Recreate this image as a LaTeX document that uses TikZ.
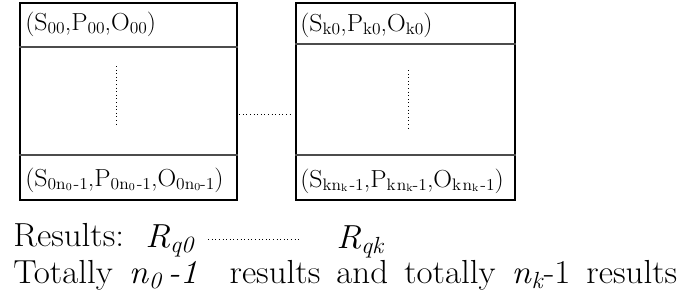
\documentclass[tikz,border=0pt]{standalone}
\usepackage{fontspec}
\setmainfont{Latin Modern Roman}[FakeStretch=1.05]
\usetikzlibrary{positioning}
\newcommand\lo[1]{\raisebox{-0.3ex}{\fontsize{12.5}{12.5}\selectfont #1}}
\newcommand\llo[1]{\raisebox{-0.2ex}{\fontsize{8}{8}\selectfont #1}}
\newcommand\blo[1]{\raisebox{-0.35ex}{\fontsize{17.5}{17.5}\selectfont #1}}
\begin{document}
\begin{tikzpicture}[x=0.75pt,y=-0.75pt,
	tbox/.style={draw,line width=1.4pt,minimum height=147.75pt,inner sep=0pt},
	sep/.style={draw=black!70,line width=0.8pt},
	cell/.style={anchor=west,inner sep=0pt,font=\fontsize{18.5}{21}\selectfont},
	txt/.style={anchor=base west,inner sep=0pt,font=\fontsize{25}{29}\selectfont},
	gap/.style={dotted,line width=0.7pt}]
	\useasboundingbox (0,0) rectangle (690,307);
	% the two result tables
	\node[tbox,minimum width=162.75pt] (b0) at (128.5,101.5) {};
	\node[tbox,minimum width=164.25pt] (bk) at (405.5,101.5) {};
	\draw[sep] (b0.west |- 0,47) -- (b0.east |- 0,47);
	\draw[sep] (b0.west |- 0,155) -- (b0.east |- 0,155);
	\draw[sep] (bk.west |- 0,44) -- (bk.east |- 0,44);
	\draw[sep] (bk.west |- 0,155) -- (bk.east |- 0,155);
	\node[cell] (s00) at (25,24) {(S\lo{00},P\lo{00},O\lo{00})};
	\node[cell] (s0n) at (25,180) {(S\lo{0n\llo{0}\hspace{1.5pt}-1},P\lo{0n\llo{0}\hspace{1.5pt}-1},O\lo{0n\llo{0}-1})};
	\node[cell] (sk0) at (300,25) {(S\lo{k0},P\lo{k0},O\lo{k0})};
	\node[cell] (skn) at (300,181) {(S\lo{kn\llo{k}\hspace{1.5pt}-1},P\lo{k\hspace{1pt}n\llo{k}-1},O\lo{k\hspace{1pt}n\llo{k}\hspace{1.5pt}-1})};
	\draw[gap] (116,66) -- (116,127);
	\draw[gap] (408,70) -- (408,130);
	\draw[gap] ([xshift=1pt,yshift=-10pt]b0.east) -- ([xshift=-3pt,yshift=-10pt]bk.west);
	% results
	\node[txt] (res) at (13,246) {Results:};
	\node[txt] (rq0) at (145,247) {\textit{R}\blo{\textit{q0}}};
	\node[txt] (rqk) at (336,248) {\textit{R}\blo{\textit{qk}}};
	\coordinate (g0) at ([xshift=10pt,yshift=6pt]rq0.base east);
	\draw[gap] (g0) -- ([xshift=-28pt]rqk.west |- g0);
	\node[txt] (tot) at (13,283) {\makebox[498pt][s]{Totally \textit{n}\blo{\textit{0}}\,\textit{-1} \ results and totally \textit{n}\blo{\textit{k}}-1 results}};
\end{tikzpicture}
\end{document}
